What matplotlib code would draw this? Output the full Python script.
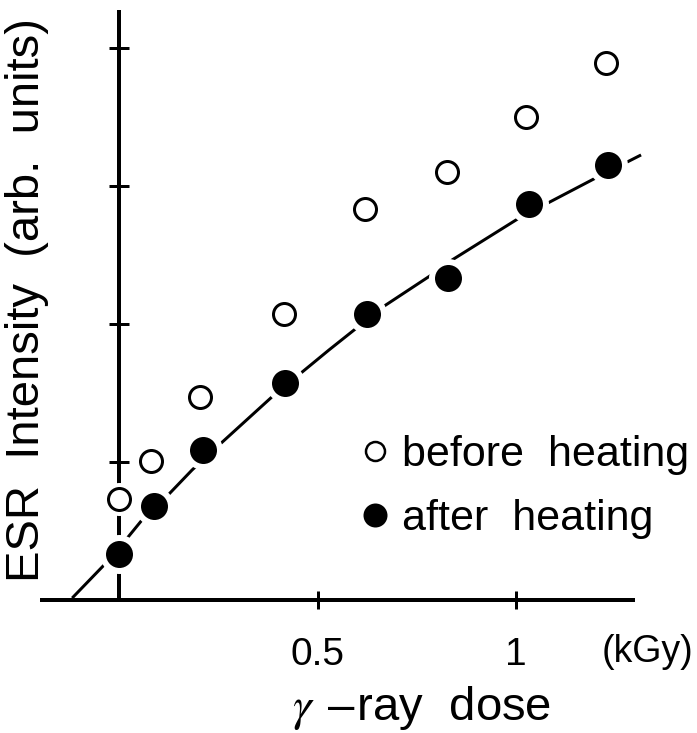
import numpy as np
import matplotlib.pyplot as plt
from matplotlib.lines import Line2D

plt.rcParams['font.family'] = ['Liberation Sans', 'DejaVu Sans']
plt.rcParams['mathtext.fontset'] = 'stix'

# values (dose in kGy, intensity in tick units)
dose_before = [0.0, 0.081, 0.204, 0.416, 0.620, 0.826, 1.025, 1.227]
esr_before = [0.73, 1.01, 1.47, 2.07, 2.83, 3.10, 3.50, 3.89]
dose_after = [0.0, 0.088, 0.212, 0.418, 0.625, 0.829, 1.033, 1.232]
esr_after = [0.33, 0.68, 1.09, 1.57, 2.07, 2.33, 2.87, 3.15]
# fitted curve, traced point by point
fit_dose = [-0.118, -0.018, 0.058, 0.126, 0.184, 0.252, 0.385, 0.529, 0.668,
            0.783, 0.839, 1.008, 1.196, 1.315]
fit_esr = [0.014, 0.312, 0.580, 0.768, 0.942, 1.123, 1.471, 1.812, 2.130,
           2.348, 2.464, 2.768, 3.051, 3.225]
xticks = [0.5, 1]
xticklabels = ['0.5', '1']
yticks = [1, 2, 3, 4]

px = 72 / 100  # points per pixel at dpi 100

fig = plt.figure(figsize=(6.97, 7.33), dpi=100)
ax = fig.add_axes([0, 0, 1, 1])
ax.set_xlim(-119 / 397, 578 / 397)
ax.set_ylim(-133 / 138, 600 / 138)

for s in ['top', 'right']:
    ax.spines[s].set_visible(False)
ax.spines['left'].set_position(('data', 0))
ax.spines['bottom'].set_position(('data', 0))
ax.spines['left'].set_bounds(0, 4.275)
ax.spines['bottom'].set_bounds(-0.199, 1.30)
for s in ['left', 'bottom']:
    ax.spines[s].set_linewidth(4 * px)
    ax.spines[s].set_capstyle('butt')

ax.set_yticks(yticks)
ax.set_yticklabels([])
ax.tick_params(axis='y', direction='inout', length=20 * px, width=3 * px)
ax.set_xticks(xticks)
ax.set_xticklabels(xticklabels, fontsize=28)
ax.tick_params(axis='x', direction='inout', length=18 * px, width=3 * px, pad=20)

# fit curve
ax.plot(fit_dose, fit_esr, color='black', lw=3 * px, zorder=2, solid_capstyle='butt')

# white halos that break the lines around the markers
ax.plot(dose_after, esr_after, 'o', ms=39 * px, color='white', mew=0, zorder=3)
ax.plot(dose_before, esr_before, 'o', ms=33 * px, color='white', mew=0, zorder=3)

ax.plot(dose_before, esr_before, 'o', ms=22 * px, mfc='white', mec='black',
        mew=3 * px, zorder=4, clip_on=False)
ax.plot(dose_after, esr_after, 'o', ms=27 * px, mfc='black', mec='black',
        mew=0, zorder=4, clip_on=False)

handles = [Line2D([], [], ls='none', marker='o', ms=19 * px, mfc='white', mec='black', mew=2.5 * px),
           Line2D([], [], ls='none', marker='o', ms=24 * px, mfc='black', mec='black', mew=0)]
ax.legend(handles, ['before  heating', 'after  heating'], loc='upper left',
          bbox_to_anchor=(362 / 697, 1 - 435 / 733), frameon=False, fontsize=31,
          handlelength=0.6, handletextpad=0.33, labelspacing=0.55, borderpad=0,
          borderaxespad=0)

ax.text(1.33, -0.377, '(kGy)', fontsize=27, ha='center', va='center')
ax.text(0.761, -0.87, r'$\gamma$ $-$ray  dose', fontsize=34, ha='center', va='baseline')
ax.text(-0.232, 2.17, 'ESR  Intensity  (arb.  units)', fontsize=34, rotation=90,
        ha='center', va='center')

plt.savefig('out.png', dpi=100)
